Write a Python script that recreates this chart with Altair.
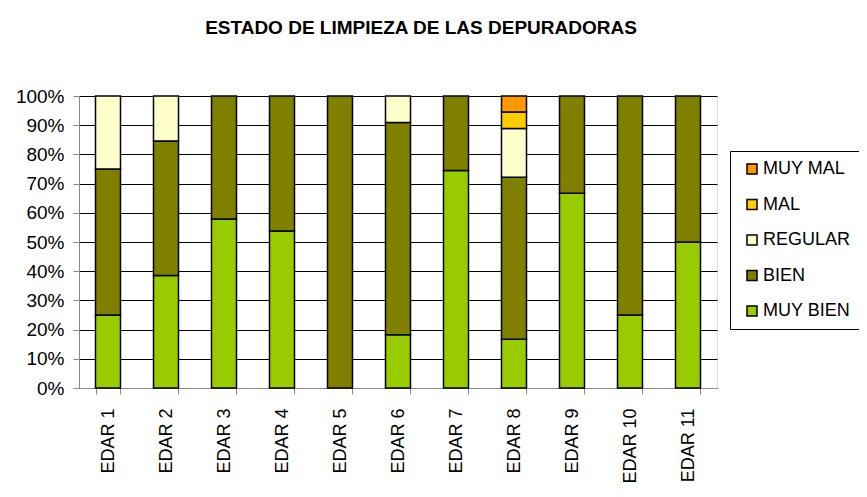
import altair as alt
import pandas as pd

categories = ["EDAR 1", "EDAR 2", "EDAR 3", "EDAR 4", "EDAR 5", "EDAR 6",
              "EDAR 7", "EDAR 8", "EDAR 9", "EDAR 10", "EDAR 11"]
series = ["MUY BIEN", "BIEN", "REGULAR", "MAL", "MUY MAL"]
muy_bien = [25.0, 38.5, 57.9, 53.8, 0.0, 18.2, 74.5, 16.7, 66.7, 25.0, 50.0]
bien     = [50.0, 46.1, 42.1, 46.2, 100.0, 72.7, 25.5, 55.5, 33.3, 75.0, 50.0]
regular  = [25.0, 15.4, 0.0, 0.0, 0.0, 9.1, 0.0, 16.7, 0.0, 0.0, 0.0]
mal      = [0.0, 0.0, 0.0, 0.0, 0.0, 0.0, 0.0, 5.6, 0.0, 0.0, 0.0]
muy_mal  = [0.0, 0.0, 0.0, 0.0, 0.0, 0.0, 0.0, 5.5, 0.0, 0.0, 0.0]
colors = {"MUY BIEN": "#99CC00", "BIEN": "#808000", "REGULAR": "#FFFFCC",
          "MAL": "#FFCC00", "MUY MAL": "#FF9900"}

values = [muy_bien, bien, regular, mal, muy_mal]
rows = []
for i, cat in enumerate(categories):
    for k, (s, vals) in enumerate(zip(series, values)):
        if vals[i] > 0:
            rows.append({"depuradora": cat, "estado": s, "valor": vals[i], "orden": k})
df = pd.DataFrame(rows)

legend_order = list(reversed(series))
FONT = "Liberation Sans"

chart = alt.Chart(df).mark_bar(stroke="black", strokeWidth=1.5, opacity=1).encode(
    x=alt.X("depuradora:N", sort=categories,
            scale=alt.Scale(paddingInner=0.569, paddingOuter=0.2845),
            axis=alt.Axis(title=None, labelAngle=270, labelAlign="right",
                          labelBaseline="middle", labelFontSize=18, labelPadding=14,
                          tickBand="extent", tickSize=6, grid=False)),
    y=alt.Y("valor:Q", stack="normalize",
            scale=alt.Scale(domain=[0, 1], nice=False),
            axis=alt.Axis(title=None, format=".0%",
                          values=[i / 10 for i in range(11)],
                          labelFontSize=19, labelPadding=9, tickSize=6,
                          grid=True, gridColor="black", gridWidth=1)),
    color=alt.Color("estado:N",
                    scale=alt.Scale(domain=legend_order,
                                    range=[colors[s] for s in legend_order]),
                    legend=alt.Legend(title=None, orient="none", legendX=651, legendY=55,
                                      fillColor="white", strokeColor="black",
                                      padding=9, rowPadding=17.5, symbolType="square",
                                      symbolSize=100, symbolStrokeColor="black",
                                      symbolStrokeWidth=1.5, symbolOpacity=1,
                                      labelFontSize=18, labelFont=FONT,
                                      symbolOffset=4, labelOffset=2)),
    order=alt.Order("orden:Q", sort="ascending"),
).properties(
    width=638, height=292,
    title=alt.Title("ESTADO DE LIMPIEZA DE LAS DEPURADORAS", fontSize=19, font=FONT,
                    fontWeight="bold", anchor="middle", dx=23, offset=49, color="black"),
    autosize=alt.AutoSizeParams(type="none"),
    padding={"left": 71, "top": 88, "right": 142, "bottom": 95},
).configure_view(
    fill="#C0C0C0", stroke="#808080", strokeWidth=1
).configure_axis(
    labelFont=FONT, labelColor="black", domainColor="black", tickColor="black",
    domainWidth=1, tickWidth=1
).configure(background="white")

chart.save("out.html", embed_options={"renderer": "svg", "actions": False})
